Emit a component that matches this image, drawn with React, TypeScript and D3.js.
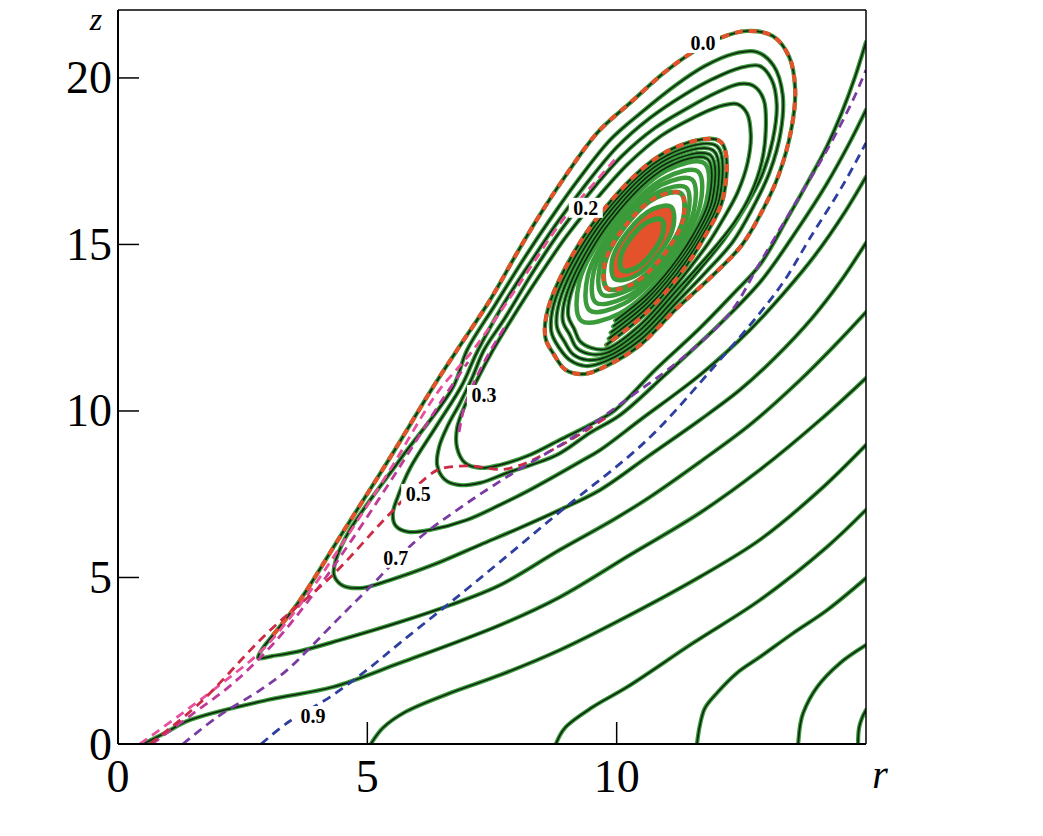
import React from 'react';
import * as d3 from 'd3';

type P = [number, number];

const W = 1043, H = 836;
const R_MAX = 15;
const Z_MAX = 22.04;
const xTicks = [0, 5, 10];
const yTicks = [0, 5, 10, 15, 20];

// open streamlines (r, z), ending on the right boundary at z = 1,3,...,21
const L1: P[] = [[14.84,0],[14.86,0.48],[14.92,0.78],[15,1.02]];
const L2: P[] = [[13.64,0],[13.68,0.57],[13.74,0.93],[14.02,1.71],[14.48,2.43],[15,2.97]];
const L3: P[] = [[11.61,0],[11.67,0.57],[11.77,1.08],[12.01,1.53],[12.41,2.13],[12.87,2.61],[13.54,3.33],[14.22,4.02],[15,4.98]];
const L4: P[] = [[8.78,0],[8.96,0.48],[9.52,1.11],[10.21,1.71],[11.53,3.03],[12.87,4.32],[14.22,5.92],[15,7.03]];
const L5: P[] = [[5.07,0],[5.31,0.48],[5.76,0.96],[6.66,1.53],[7.66,2.07],[8.86,2.82],[10.07,3.72],[11.67,5.02],[12.87,6.13],[14.08,7.63],[15,8.98]];
const L6: P[] = [[0.5,0],[0.94,0.33],[1.44,0.72],[2.99,1.32],[4.31,1.71],[5.65,2.43],[7.66,3.57],[8.86,4.41],[10.27,5.68],[11.67,6.94],[12.87,8.23],[14.08,9.73],[15,10.99]];
const L7: P[] = [[15.00,12.97],[14.38,11.98],[13.68,10.93],[12.67,9.58],[11.67,8.47],[10.67,7.42],[9.93,6.73],[8.86,5.83],[7.66,4.77],[6.66,4.17],[5.65,3.66],[4.45,3.12],[3.65,2.79],[3.09,2.64],[2.81,2.58],[2.89,2.85],[3.11,3.27],[3.65,4.32],[4.45,6.22],[5.39,8.44],[6.32,10.72],[6.80,11.83],[7.46,13.33],[8.00,14.74],[8.46,15.89],[8.92,16.94],[9.61,18.35],[10.27,19.25],[10.97,20.18],[11.53,20.78],[12.07,21.20],[12.61,21.41],[13.13,21.26],[13.46,20.63],[13.58,19.64],[13.50,18.44],[13.25,17.09],[12.91,15.98],[12.51,14.98],[11.87,13.99],[11.19,13.06],[10.47,11.98],[9.79,11.35],[9.36,11.11],[8.98,11.23],[8.74,11.70],[8.57,12.21],[8.67,13.29],[9.62,15.82],[11.03,17.81],[12.08,18.09],[12.15,16.50],[11.72,15.12],[11.20,13.97],[10.58,12.93],[9.79,11.98]];
const L8: P[] = [[15.00,15.05],[14.48,13.87],[13.92,12.79],[13.17,11.59],[12.47,10.63],[11.67,9.73],[10.67,8.68],[9.67,7.63],[8.86,7.03],[8.06,6.49],[7.26,5.98],[6.32,5.38],[5.45,4.92],[4.85,4.68],[4.49,4.77],[4.33,5.08],[4.37,5.53],[4.65,6.43],[5.65,8.53],[6.72,10.72],[7.00,11.83],[7.56,13.18],[8.16,14.62],[8.66,15.74],[9.20,16.88],[9.87,18.14],[10.51,18.98],[11.19,19.79],[11.77,20.36],[12.33,20.72],[12.81,20.78],[13.15,20.36],[13.33,19.49],[13.29,18.38],[13.07,17.18],[12.73,16.10],[12.33,15.08],[11.77,14.14],[11.19,13.24],[10.47,12.13],[9.79,11.50],[9.38,11.35],[9.06,11.53],[8.85,11.89],[8.69,12.38],[8.78,13.40],[9.69,15.80],[11.02,17.68],[12.01,17.95],[12.07,16.45],[11.66,15.14],[11.17,14.05],[10.59,13.07],[9.84,12.17]];
const L9: P[] = [[15.00,17.03],[14.58,15.98],[13.98,14.68],[13.37,13.57],[12.67,12.43],[11.67,11.08],[10.47,9.73],[9.67,8.83],[9.26,8.47],[8.26,7.63],[7.66,7.18],[7.00,6.73],[6.26,6.43],[5.82,6.37],[5.57,6.55],[5.51,6.91],[5.61,7.42],[5.86,8.29],[6.40,9.58],[6.90,10.78],[7.20,11.77],[7.72,13.18],[8.30,14.53],[8.82,15.68],[9.36,16.76],[10.01,17.93],[10.67,18.80],[11.35,19.49],[11.93,19.97],[12.47,20.30],[12.87,20.36],[13.11,19.94],[13.21,19.19],[13.13,18.14],[12.91,17.06],[12.57,16.10],[12.15,15.14],[11.67,14.26],[11.19,13.42],[10.47,12.28],[9.79,11.62],[9.42,11.53],[9.12,11.71],[8.95,12.09],[8.80,12.54],[8.90,13.51],[9.75,15.77],[11.01,17.56],[11.94,17.82],[12.00,16.40],[11.61,15.17],[11.14,14.14],[10.59,13.21],[9.88,12.35]];
const L10: P[] = [[15.00,19.04],[14.68,18.08],[14.20,16.79],[13.62,15.44],[12.91,13.93],[12.11,12.67],[10.97,11.08],[10.07,9.88],[9.46,9.34],[8.80,8.68],[7.80,8.14],[7.26,7.84],[6.82,7.78],[6.54,7.96],[6.40,8.38],[6.44,8.92],[6.62,9.58],[6.86,10.24],[7.10,10.99],[7.34,11.83],[7.76,12.79],[8.32,14.17],[8.86,15.38],[9.46,16.55],[10.11,17.66],[10.77,18.50],[11.43,19.10],[11.99,19.55],[12.47,19.82],[12.75,19.76],[12.95,19.34],[12.99,18.44],[12.91,17.48],[12.69,16.52],[12.37,15.68],[11.99,14.95],[11.59,14.26],[11.19,13.60],[10.47,12.43],[9.79,11.74],[9.46,11.71],[9.20,11.89],[9.06,12.29],[8.92,12.71],[9.02,13.62],[9.82,15.74],[11.00,17.43],[11.88,17.68],[11.92,16.35],[11.56,15.19],[11.11,14.23],[10.60,13.35],[9.93,12.54]];
const L11: P[] = [[15.00,21.08],[14.78,20.03],[14.52,18.98],[14.22,17.96],[13.88,17.00],[13.43,15.80],[12.87,14.38],[12.37,13.57],[11.67,12.49],[10.77,11.23],[9.97,10.03],[9.46,9.58],[8.86,9.13],[8.26,8.68],[7.66,8.38],[7.26,8.29],[6.96,8.44],[6.80,8.89],[6.80,9.49],[6.96,10.18],[7.22,10.99],[7.52,11.83],[7.92,12.82],[8.46,14.08],[9.00,15.26],[9.58,16.34],[10.23,17.42],[10.89,18.26],[11.53,18.80],[12.03,19.13],[12.41,19.22],[12.61,18.95],[12.69,18.29],[12.63,17.48],[12.43,16.58],[12.15,15.80],[11.83,15.02],[11.51,14.38],[11.19,13.78],[10.47,12.58],[9.79,11.86],[9.50,11.89],[9.26,12.10],[9.15,12.46],[9.03,12.85],[9.12,13.70],[9.89,15.72],[11.01,17.32],[11.82,17.57],[11.85,16.33],[11.51,15.23],[11.09,14.31],[10.60,13.48],[9.97,12.71]];

// closed vortex rings
const ringB: P[] = [[11.76,17.44],[11.80,16.28],[11.10,14.41],[10.06,12.93],[9.29,12.71],[9.25,13.87],[9.96,15.74],[11.00,17.22]];
const ringB2: P[] = [[11.63,17.19],[11.67,16.16],[11.05,14.51],[10.14,13.22],[9.46,13.02],[9.42,14.05],[10.04,15.70],[10.96,16.99]];
const ringB3: P[] = [[11.51,16.95],[11.55,16.03],[11.01,14.57],[10.19,13.42],[9.58,13.26],[9.54,14.18],[10.09,15.64],[10.90,16.79]];
const ringB4: P[] = [[11.39,16.71],[11.43,15.90],[10.96,14.62],[10.24,13.63],[9.71,13.50],[9.66,14.31],[10.14,15.59],[10.85,16.58]];
const ringC: P[] = [[11.29,16.53],[11.34,15.80],[10.93,14.66],[10.29,13.79],[9.81,13.68],[9.76,14.41],[10.17,15.55],[10.80,16.42]];
const ringC1: P[] = [[11.09,16.13],[11.14,15.56],[10.83,14.69],[10.34,14.03],[9.96,13.96],[9.91,14.53],[10.23,15.40],[10.72,16.06]];
const ringC2: P[] = [[10.90,15.74],[10.93,15.35],[10.71,14.74],[10.37,14.28],[10.11,14.23],[10.08,14.62],[10.30,15.23],[10.64,15.69]];

// dashed contours
const c09: P[] = [[2.87,0],[3.39,0.63],[4.25,1.41],[4.99,2.22],[5.65,3.03],[6.60,4.17],[7.66,5.47],[8.86,6.97],[10.61,9.13],[11.93,11.29],[12.87,12.94],[13.37,13.93],[13.88,15.20],[14.54,16.79],[15.00,18.05]];
const c07: P[] = [[1.30,0],[1.99,0.81],[2.85,1.62],[3.39,2.22],[4.39,3.72],[4.99,4.62],[6.00,6.13],[6.86,7.09],[7.80,8.02],[9.26,9.34],[10.27,10.42],[11.27,11.53],[12.27,12.94],[12.87,14.44],[13.54,16.13],[14.22,17.84],[14.74,19.34],[15.00,20.24]];
const c05: P[] = [[0.64,0],[1.64,1.23],[2.99,3.33],[4.31,5.08],[5.39,6.82],[6.20,8.02],[6.46,8.26],[7.06,8.35],[7.80,8.26],[8.86,8.95],[9.87,9.88]];
const c03a: P[] = [[0.68,0],[1.44,0.84],[2.29,1.80],[3.09,2.97],[3.89,4.44],[4.69,6.13],[5.61,8.23],[6.46,10.24],[7.02,11.47]];
const c03b: P[] = [[6.84,9.37],[6.92,9.97],[7.06,10.57],[7.26,11.23],[7.50,11.89],[7.78,12.58]];
const c02: P[] = [[0.44,0],[1.24,0.87],[2.09,1.83],[2.89,2.82],[3.75,4.38],[4.55,6.13],[5.49,8.32],[6.40,10.54],[7.12,11.83],[8.06,13.84],[8.92,15.74],[9.61,16.94],[10.01,17.63]];

const contourLabels: { text: string; r: number; z: number }[] = [
  { text: '0.0', r: 11.73, z: 21.05 },
  { text: '0.2', r: 9.38, z: 16.10 },
  { text: '0.3', r: 7.34, z: 10.48 },
  { text: '0.5', r: 6.02, z: 7.51 },
  { text: '0.7', r: 5.57, z: 5.59 },
  { text: '0.9', r: 3.91, z: 0.84 },
];

const GREEN = '#3b9b3b';
const CORE = '#0f2a10';
const ORANGE = '#e3522b';

export default function App() {
  const x = d3.scaleLinear().domain([0, R_MAX]).range([118, 866]);
  const y = d3.scaleLinear().domain([0, Z_MAX]).range([744, 10]);
  const open = d3.line<P>().x(d => x(d[0])).y(d => y(d[1])).curve(d3.curveCatmullRom.alpha(0.5));
  const closed = d3.line<P>().x(d => x(d[0])).y(d => y(d[1])).curve(d3.curveCatmullRomClosed.alpha(0.5));

  const openLines = [L1, L2, L3, L4, L5, L6, L7, L8, L9, L10, L11];
  const bandRings = [ringB, ringB2, ringB3, ringB4, ringC1];
  const serif = '"Liberation Serif", "Times New Roman", serif';

  const dashed: { pts: P[]; color: string }[] = [
    { pts: c02, color: '#e8509c' },
    { pts: c03a, color: '#c03a9a' },
    { pts: c03b, color: '#c03a9a' },
    { pts: c05, color: '#cc2a45' },
    { pts: c07, color: '#7a3ca2' },
    { pts: c09, color: '#2e3fa0' },
  ];

  return (
    <svg width={W} height={H} style={{ position: 'absolute', left: 0, top: 0, background: '#fff' }}>
      <defs>
        <clipPath id="plot">
          <rect x={x(0)} y={y(Z_MAX)} width={x(R_MAX) - x(0)} height={y(0) - y(Z_MAX)} />
        </clipPath>
      </defs>
      <g clipPath="url(#plot)">
        {/* inner vortex */}
        <path d={closed(ringC1) || ''} fill={ORANGE} stroke="none" />
        {bandRings.map((r, i) => (
          <path key={'b' + i} d={closed(r) || ''} fill="none" stroke={GREEN} strokeWidth={4.5} />
        ))}
        <path d={closed(ringC2) || ''} fill="none" stroke={GREEN} strokeWidth={5} />
        <path d={closed(ringC) || ''} fill="none" stroke={GREEN} strokeWidth={5} />
        <path d={closed(ringC) || ''} fill="none" stroke={ORANGE} strokeWidth={4} strokeDasharray="7 5" />
        {/* streamlines */}
        {openLines.map((l, i) => (
          <g key={'l' + i}>
            <path d={open(l) || ''} fill="none" stroke={GREEN} strokeWidth={4.2} strokeLinecap="round" />
            <path d={open(l) || ''} fill="none" stroke={CORE} strokeWidth={1.7} />
          </g>
        ))}
        <path d={open(L7.slice(16)) || ''} fill="none" stroke={ORANGE} strokeWidth={4} strokeDasharray="8 6" />
        {dashed.map((c, i) => (
          <path key={'c' + i} d={open(c.pts) || ''} fill="none" stroke={c.color} strokeWidth={2.8} strokeDasharray="9 6" />
        ))}
      </g>
      {/* frame */}
      <line x1={x(0)} x2={x(R_MAX)} y1={y(Z_MAX)} y2={y(Z_MAX)} stroke="#000" strokeWidth={1.5} />
      <line x1={x(R_MAX)} x2={x(R_MAX)} y1={y(Z_MAX)} y2={y(0)} stroke="#000" strokeWidth={1.5} />
      <line x1={x(0)} x2={x(0)} y1={y(Z_MAX)} y2={y(0)} stroke="#000" strokeWidth={2} />
      <line x1={x(0)} x2={x(R_MAX)} y1={y(0)} y2={y(0)} stroke="#000" strokeWidth={2} />
      {yTicks.filter(t => t > 0).map(t => (
        <line key={'yt' + t} x1={x(0)} x2={x(0) + 21} y1={y(t)} y2={y(t)} stroke="#000" strokeWidth={1.5} />
      ))}
      {xTicks.filter(t => t > 0).map(t => (
        <line key={'xt' + t} x1={x(t)} x2={x(t)} y1={y(0)} y2={y(0) - 22} stroke="#000" strokeWidth={1.5} />
      ))}
      {yTicks.map(t => (
        <text key={'yl' + t} x={x(0) - 6} y={y(t)} textAnchor="end" dominantBaseline="central" fontFamily={serif} fontSize={46}>{t}</text>
      ))}
      {xTicks.map(t => (
        <text key={'xl' + t} x={x(t)} y={y(0) + 32} textAnchor="middle" dominantBaseline="central" fontFamily={serif} fontSize={46}>{t}</text>
      ))}
      <text x={x(R_MAX) + 14} y={y(0) + 44} textAnchor="middle" fontFamily={serif} fontStyle="italic" fontSize={40}>r</text>
      <text x={x(0) - 22} y={y(Z_MAX) + 20} textAnchor="middle" fontFamily={serif} fontStyle="italic" fontSize={32}>z</text>
      {contourLabels.map(l => (
        <g key={l.text}>
          <rect x={x(l.r) - 17} y={y(l.z) - 10} width={34} height={20} fill="#fff" />
          <text x={x(l.r)} y={y(l.z)} textAnchor="middle" dominantBaseline="central" fontFamily={serif} fontWeight="bold" fontSize={20}>{l.text}</text>
        </g>
      ))}
    </svg>
  );
}
